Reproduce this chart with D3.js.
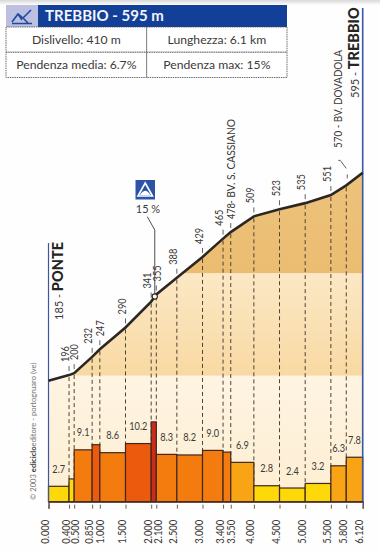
<!DOCTYPE html>
<html>
<head>
<meta charset="utf-8">
<script src="https://cdn.jsdelivr.net/npm/d3@7"></script>
<style>
  html, body { margin: 0; padding: 0; background: #fefefe; }
  svg { display: block; font-family: Lato, "Open Sans", sans-serif; }
</style>
</head>
<body>
<svg id="chartsvg" width="380" height="550"></svg>
<script>
// km marks along the climb and altitude at each one
const kmTicks = [0, 0.4, 0.5, 0.85, 1, 1.5, 2, 2.1, 2.5, 3, 3.4, 3.55, 4, 4.5, 5, 5.5, 5.8, 6.12];
const elevations = [185, 196, 200, 232, 247, 290, 341, 355, 388, 429, 465, 478, 509, 523, 535, 551, 570, 595];
const elevLabels = ['', '196', '200', '232', '247', '290', '341', '355', '388', '429', '465', '478', '509', '523', '535', '551', '', ''];
// gradient of each stretch between two km marks, only some are printed
const grades = [2.7, 4, 9.1, 10, 8.6, 10.2, 14, 8.3, 8.2, 9, 8.7, 6.9, 2.8, 2.4, 3.2, 6.3, 7.8];
const gradeLabels = ['2.7', '', '9.1', '', '8.6', '10.2', '', '8.3', '8.2', '9.0', '', '6.9', '2.8', '2.4', '3.2', '6.3', '7.8'];
const bandLimits = [195, 397];
const maxPoint = [2.07, 351];
const maxLabel = '15 %';
const title = 'TREBBIO - 595 m';
const infoRows = [['Dislivello: 410 m', 'Lunghezza: 6.1 km'], ['Pendenza media: 6.7%', 'Pendenza max: 15%']];

const textColor = '#3c3a38';
const blue = '#3b57a3';
// the printed digits are much narrower than Lato
const narrow = 'scale(0.8, 1)';

const svg = d3.select('#chartsvg');
const defs = svg.append('defs');

// scales
const x = d3.scaleLinear().domain([0, 6.12]).range([48.5, 362.7]);
const y = d3.scaleLinear().domain([185, 595]).range([380.7, 172.7]);
const yGrade = d3.scaleLinear().domain([0, 15]).range([501.7, 416.2]);
const gradeColor = d3.scaleThreshold()
  .domain([5, 8, 9.95, 12])
  .range(['#fed90a', '#f8a414', '#f47c0e', '#ec5a0e', '#cc2a1a']);

const profile = kmTicks.map((km, i) => [km, elevations[i]]);

// soft page shadow from the scan
const shade = defs.append('linearGradient').attr('id', 'shade').attr('x1', 0).attr('x2', 0).attr('y1', 0).attr('y2', 1);
shade.append('stop').attr('offset', 0).attr('stop-color', '#d8d8d8');
shade.append('stop').attr('offset', 1).attr('stop-color', '#fefefe');
svg.append('rect').attr('width', 380).attr('height', 5).attr('fill', 'url(#shade)');

// background bands under the profile
defs.append('clipPath').attr('id', 'underProfile')
  .append('path')
  .attr('d', d3.area().x(d => x(d[0])).y0(yGrade(0)).y1(d => y(d[1]))(profile));

const bands = [
  { top: yGrade(0), bottom: y(bandLimits[0]), from: '#feeed2', to: '#fef4e2' },
  { top: y(bandLimits[0]), bottom: y(bandLimits[1]), from: '#f8d9a2', to: '#fce8c6' },
  { top: y(bandLimits[1]), bottom: 170, from: '#ebbd72', to: '#eec27c' }
];
const bandGroup = svg.append('g').attr('clip-path', 'url(#underProfile)');
bands.forEach((b, i) => {
  const grad = defs.append('linearGradient').attr('id', 'band' + i)
    .attr('x1', 0).attr('x2', 0).attr('y1', 1).attr('y2', 0);
  grad.append('stop').attr('offset', 0).attr('stop-color', b.from);
  grad.append('stop').attr('offset', 1).attr('stop-color', b.to);
  bandGroup.append('rect')
    .attr('x', x(0))
    .attr('width', x(6.12) - x(0))
    .attr('y', Math.min(b.top, b.bottom))
    .attr('height', Math.abs(b.bottom - b.top))
    .attr('fill', `url(#band${i})`);
});

// dashed drop lines
svg.append('g').selectAll('line')
  .data(profile.slice(1, -1))
  .enter()
  .append('line')
  .attr('x1', d => x(d[0]))
  .attr('x2', d => x(d[0]))
  .attr('y1', d => y(d[1]) + 2)
  .attr('y2', yGrade(0))
  .attr('stroke', '#4f4334')
  .attr('stroke-width', 1)
  .attr('stroke-dasharray', '4,3');

// gradient bars
const barData = grades.map((g, i) => ({ g, label: gradeLabels[i], x0: kmTicks[i], x1: kmTicks[i + 1] }));
svg.append('g').selectAll('rect')
  .data(barData)
  .enter()
  .append('rect')
  .attr('x', d => x(d.x0))
  .attr('y', d => yGrade(d.g))
  .attr('width', d => x(d.x1) - x(d.x0))
  .attr('height', d => yGrade(0) - yGrade(d.g))
  .attr('fill', d => gradeColor(d.g))
  .attr('stroke', '#40281c')
  .attr('stroke-width', 1.2);

svg.append('g').selectAll('text')
  .data(barData.filter(d => d.label))
  .enter()
  .append('text')
  .attr('transform', d => `translate(${(x(d.x0) + x(d.x1)) / 2}, ${yGrade(d.g) - 13.5}) ${narrow}`)
  .attr('text-anchor', 'middle')
  .attr('font-size', 11.5)
  .attr('fill', textColor)
  .text(d => d.label);

// side lines
svg.append('line').attr('x1', x(0)).attr('x2', x(0)).attr('y1', 243).attr('y2', yGrade(0))
  .attr('stroke', blue).attr('stroke-width', 1.2);
svg.append('line').attr('x1', x(6.12)).attr('x2', x(6.12)).attr('y1', 8).attr('y2', yGrade(0))
  .attr('stroke', blue).attr('stroke-width', 1.6);

// profile line
svg.append('path')
  .datum(profile)
  .attr('fill', 'none')
  .attr('stroke', '#2b2723')
  .attr('stroke-width', 2.6)
  .attr('d', d3.line().x(d => x(d[0])).y(d => y(d[1])));

// x axis, labels run upwards with a few pushed aside
const tickNudge = { 0.5: 4, 1: 4, 2.1: 5, 3.55: 4 };
const axis = svg.append('g')
  .attr('transform', `translate(0, ${yGrade(0)})`)
  .call(d3.axisBottom(x).tickValues(kmTicks).tickFormat(d3.format('.3f')).tickSize(7).tickPadding(0));
axis.select('.domain').attr('stroke', '#40281c').attr('stroke-width', 1.2);
axis.selectAll('.tick line').attr('stroke', '#6a6058').attr('stroke-dasharray', '1,2,4,0');
axis.selectAll('.tick text')
  .attr('x', 0)
  .attr('y', 0)
  .attr('dy', 0)
  .attr('transform', d => `translate(${tickNudge[d] || 0}, 18) rotate(-90) scale(0.82, 1)`)
  .attr('text-anchor', 'end')
  .attr('font-family', 'Lato, sans-serif')
  .attr('font-size', 11.5)
  .attr('fill', textColor);

// altitude labels
const labelNudge = { 200: 4, 247: 4, 355: 5, 478: 4 };
const elevGroup = svg.append('g');
profile.forEach((d, i) => {
  if (!elevLabels[i]) return;
  const px = x(d[0]);
  const py = y(d[1]);
  elevGroup.append('line')
    .attr('x1', px).attr('x2', px)
    .attr('y1', py - 9).attr('y2', py - 4)
    .attr('stroke', textColor).attr('stroke-width', 0.8);
  elevGroup.append('text')
    .attr('transform', `translate(${px + (labelNudge[d[1]] || 0)}, ${py - 13}) rotate(-90) ${narrow}`)
    .attr('font-size', 11.5)
    .attr('fill', textColor)
    .text(elevLabels[i]);
});

// place names running on from the altitude
svg.append('text')
  .attr('transform', `translate(${x(3.55) + 4}, ${y(478) - 13}) rotate(-90)`)
  .attr('font-size', 11)
  .attr('fill', textColor)
  .attr('x', 15)
  .attr('textLength', 85)
  .attr('lengthAdjust', 'spacingAndGlyphs')
  .text('- BV. S. CASSIANO');

// 570 sits on a leader
const px570 = x(5.8);
const py570 = y(570);
svg.append('path')
  .attr('d', d3.line()([[px570, py570 - 17], [px570 - 6, py570 - 25], [px570 - 8, py570 - 25]]))
  .attr('fill', 'none').attr('stroke', textColor).attr('stroke-width', 0.8);
svg.append('line')
  .attr('x1', px570 + 1).attr('x2', px570 + 1)
  .attr('y1', py570 - 11).attr('y2', py570 - 7)
  .attr('stroke', textColor).attr('stroke-width', 0.8);
svg.append('text')
  .attr('transform', `translate(342, 148) rotate(-90)`)
  .attr('font-size', 11)
  .attr('fill', textColor)
  .attr('textLength', 98)
  .attr('lengthAdjust', 'spacingAndGlyphs')
  .text('570 - BV. DOVADOLA');

// start and finish names
function endName(px, py, small, big) {
  const t = svg.append('text')
    .attr('transform', `translate(${px}, ${py}) rotate(-90)`)
    .attr('fill', textColor)
    .attr('font-size', 11);
  t.append('tspan').text(small + ' - ');
  t.append('tspan').attr('font-weight', 900).attr('font-size', 14.5).attr('fill', '#262422').text(big);
}
endName(63, 320, '185', 'PONTE');
endName(358.5, 98, '595', 'TREBBIO');

// steepest point marker
const maxX = x(maxPoint[0]);
const maxY = y(maxPoint[1]);
svg.append('path')
  .attr('d', d3.line()([[maxX, maxY], [maxX, 230], [147.3, 216.7]]))
  .attr('fill', 'none').attr('stroke', '#3a3a3a').attr('stroke-width', 0.9);
svg.append('circle')
  .attr('cx', maxX).attr('cy', maxY).attr('r', 2.6)
  .attr('fill', '#fff').attr('stroke', '#2b2723').attr('stroke-width', 1.1);
svg.append('text')
  .attr('x', 148).attr('y', 213)
  .attr('text-anchor', 'middle').attr('font-size', 11).attr('fill', textColor)
  .text(maxLabel);

// little climb sign
const sign = svg.append('g').attr('transform', 'translate(135.5, 180)');
sign.append('rect').attr('width', 19.5).attr('height', 19.5).attr('fill', '#2b54a8');
sign.append('path').attr('d', 'M9.7 3 L17 16 L2.5 16 Z').attr('fill', 'none').attr('stroke', '#fff').attr('stroke-width', 1.6);
sign.append('path').attr('d', 'M4.5 15 Q8 10 11 11 Q13 12 15 15 Z').attr('fill', '#fff');

// copyright
const copy = svg.append('text')
  .attr('transform', 'translate(36, 500) rotate(-90)')
  .attr('font-size', 7.6)
  .attr('fill', '#77736f');
copy.append('tspan').text('© 2003 ');
copy.append('tspan').attr('font-weight', 700).attr('fill', '#3c3a38').text('ediciclo');
copy.append('tspan').text('editore - portogruaro (ve)');

// header box
svg.append('rect').attr('x', 6).attr('y', 5).attr('width', 32).attr('height', 22).attr('fill', '#bcbfe0');
svg.append('path')
  .attr('d', 'M12 22 L18 14 L23 18 L31 10 M12 23.5 L32 23.5 M23 18 L28 23 M18 14 L22 20')
  .attr('fill', 'none').attr('stroke', '#1f4a9e').attr('stroke-width', 1.6);
svg.append('rect').attr('x', 38).attr('y', 5).attr('width', 249).attr('height', 22).attr('fill', '#123f98');
svg.append('text')
  .attr('x', 45).attr('y', 20.5)
  .attr('font-size', 15).attr('font-weight', 700).attr('fill', '#f4f4fa')
  .text(title);

const rowY = d3.scaleBand().domain([0, 1]).range([27, 77.5]);
const colX = d3.scaleOrdinal().domain([0, 1]).range([6, 146.7]);
const colW = [140.7, 140.3];
infoRows.forEach((row, r) => {
  row.forEach((txt, c) => {
    svg.append('rect')
      .attr('x', colX(c)).attr('y', rowY(r))
      .attr('width', colW[c]).attr('height', rowY.bandwidth())
      .attr('fill', '#fff')
      .attr('stroke', '#4a4a4a').attr('stroke-width', 0.8).attr('stroke-dasharray', '1.5,0.8');
    svg.append('text')
      .attr('x', colX(c) + colW[c] / 2)
      .attr('y', rowY(r) + 16.5)
      .attr('text-anchor', 'middle')
      .attr('font-size', 12.2)
      .attr('fill', textColor)
      .text(txt);
  });
});
</script>
</body>
</html>
